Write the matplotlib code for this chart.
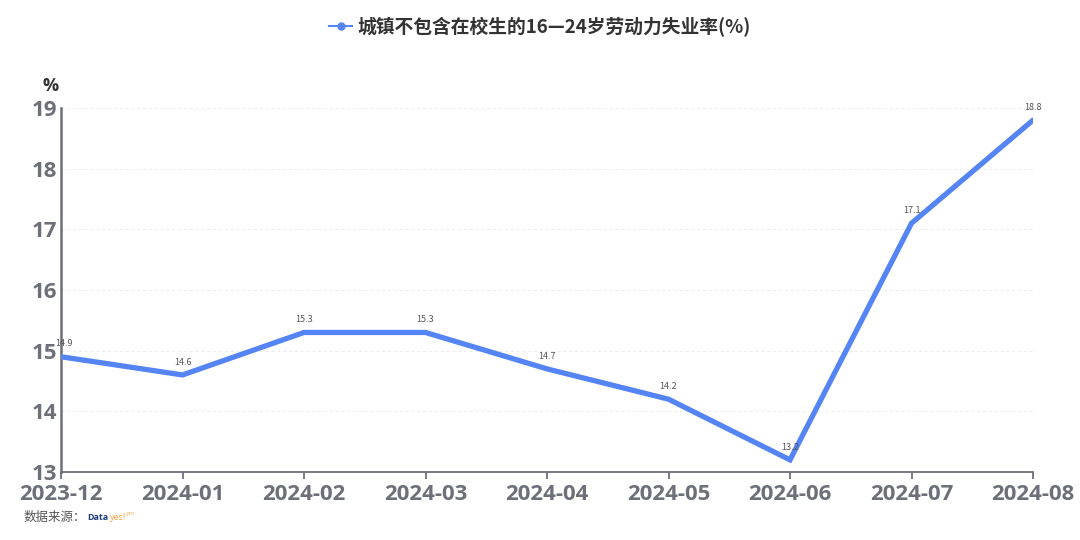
import matplotlib
matplotlib.use('Agg')
import matplotlib.pyplot as plt
from matplotlib.lines import Line2D

plt.rcParams['font.family'] = ['Noto Sans CJK SC', 'DejaVu Sans']

months = ['2023-12', '2024-01', '2024-02', '2024-03', '2024-04',
          '2024-05', '2024-06', '2024-07', '2024-08']
rate = [14.9, 14.6, 15.3, 15.3, 14.7, 14.2, 13.2, 17.1, 18.8]
yticks = [13, 14, 15, 16, 17, 18, 19]

line_color = '#5585f5'
axis_color = '#6e7079'

fig = plt.figure(figsize=(10.8, 5.4), dpi=100)
ax = fig.add_axes([61 / 1080, 1 - 472 / 540, (1033 - 61) / 1080, (472 - 108) / 540])

x = list(range(len(months)))
ax.plot(x, rate, color=line_color, lw=3.8, solid_capstyle='round', solid_joinstyle='miter', zorder=3)
for xi, v in zip(x, rate):
    dx = 2 if xi == 0 else 0
    ax.annotate(f'{v}', (xi, v), xytext=(dx, 6), textcoords='offset points',
                ha='center', va='bottom', fontsize=6.5, color='#555555', zorder=4)

ax.set_xlim(0, len(months) - 1)
ax.set_ylim(13, 19)
ax.set_xticks(x)
ax.set_xticklabels(months)
ax.set_yticks(yticks)
for lab in ax.get_xticklabels() + ax.get_yticklabels():
    lab.set_family(['Open Sans', 'DejaVu Sans'])
    lab.set_fontweight('bold')
    lab.set_fontsize(16)
    lab.set_color(axis_color)

for yv in yticks[1:]:
    ax.axhline(yv, color='#ececec', lw=0.7, ls=(0, (3, 3)), zorder=1)

for s in ['top', 'right']:
    ax.spines[s].set_visible(False)
ax.spines['left'].set_color(axis_color)
ax.spines['left'].set_linewidth(1.8)
ax.spines['bottom'].set_color(axis_color)
ax.spines['bottom'].set_linewidth(1.3)
ax.tick_params(axis='y', length=0, pad=3)
ax.tick_params(axis='x', length=5, width=1.3, color=axis_color, pad=4)

fig.text(51 / 1080, 1 - 86 / 540, '%', ha='center', va='center',
         fontsize=13, fontweight='bold', color='#333333', family=['Open Sans', 'DejaVu Sans'])

# legend-style title
leg_handle = Line2D([0], [0], color=line_color, lw=1.5, marker='o', markersize=5)
fig.legend([leg_handle], ['城镇不包含在校生的16—24岁劳动力失业率(%)'], loc='upper center',
           bbox_to_anchor=(0.5, 1.0), frameon=False, handlelength=1.2, handletextpad=0.3,
           prop={'size': 13.5, 'weight': 'bold'}, labelcolor='#333333')

# source note
y_src = 1 - 517 / 540
t1 = fig.text(24 / 1080, y_src, '数据来源：', fontsize=9, color='#555555', va='center')
renderer = fig.canvas.get_renderer()
bb = t1.get_window_extent(renderer)
x_px = bb.x1 + 1
t2 = fig.text(x_px / 1080, y_src, 'Data', fontsize=6.5, color='#1f3d7a', va='center', fontweight='bold',
              family=['Open Sans', 'DejaVu Sans'])
x_px = t2.get_window_extent(renderer).x1 + 1
t3 = fig.text(x_px / 1080, y_src, 'yes!', fontsize=6.5, color='#f5a13c', va='center',
              family=['Open Sans', 'DejaVu Sans'])
x_px = t3.get_window_extent(renderer).x1 + 1
fig.text(x_px / 1080, y_src + 0.006, 'pro', fontsize=3.5, color='#f5a13c', va='center',
         family=['Open Sans', 'DejaVu Sans'])

fig.savefig('out.png', dpi=100)
